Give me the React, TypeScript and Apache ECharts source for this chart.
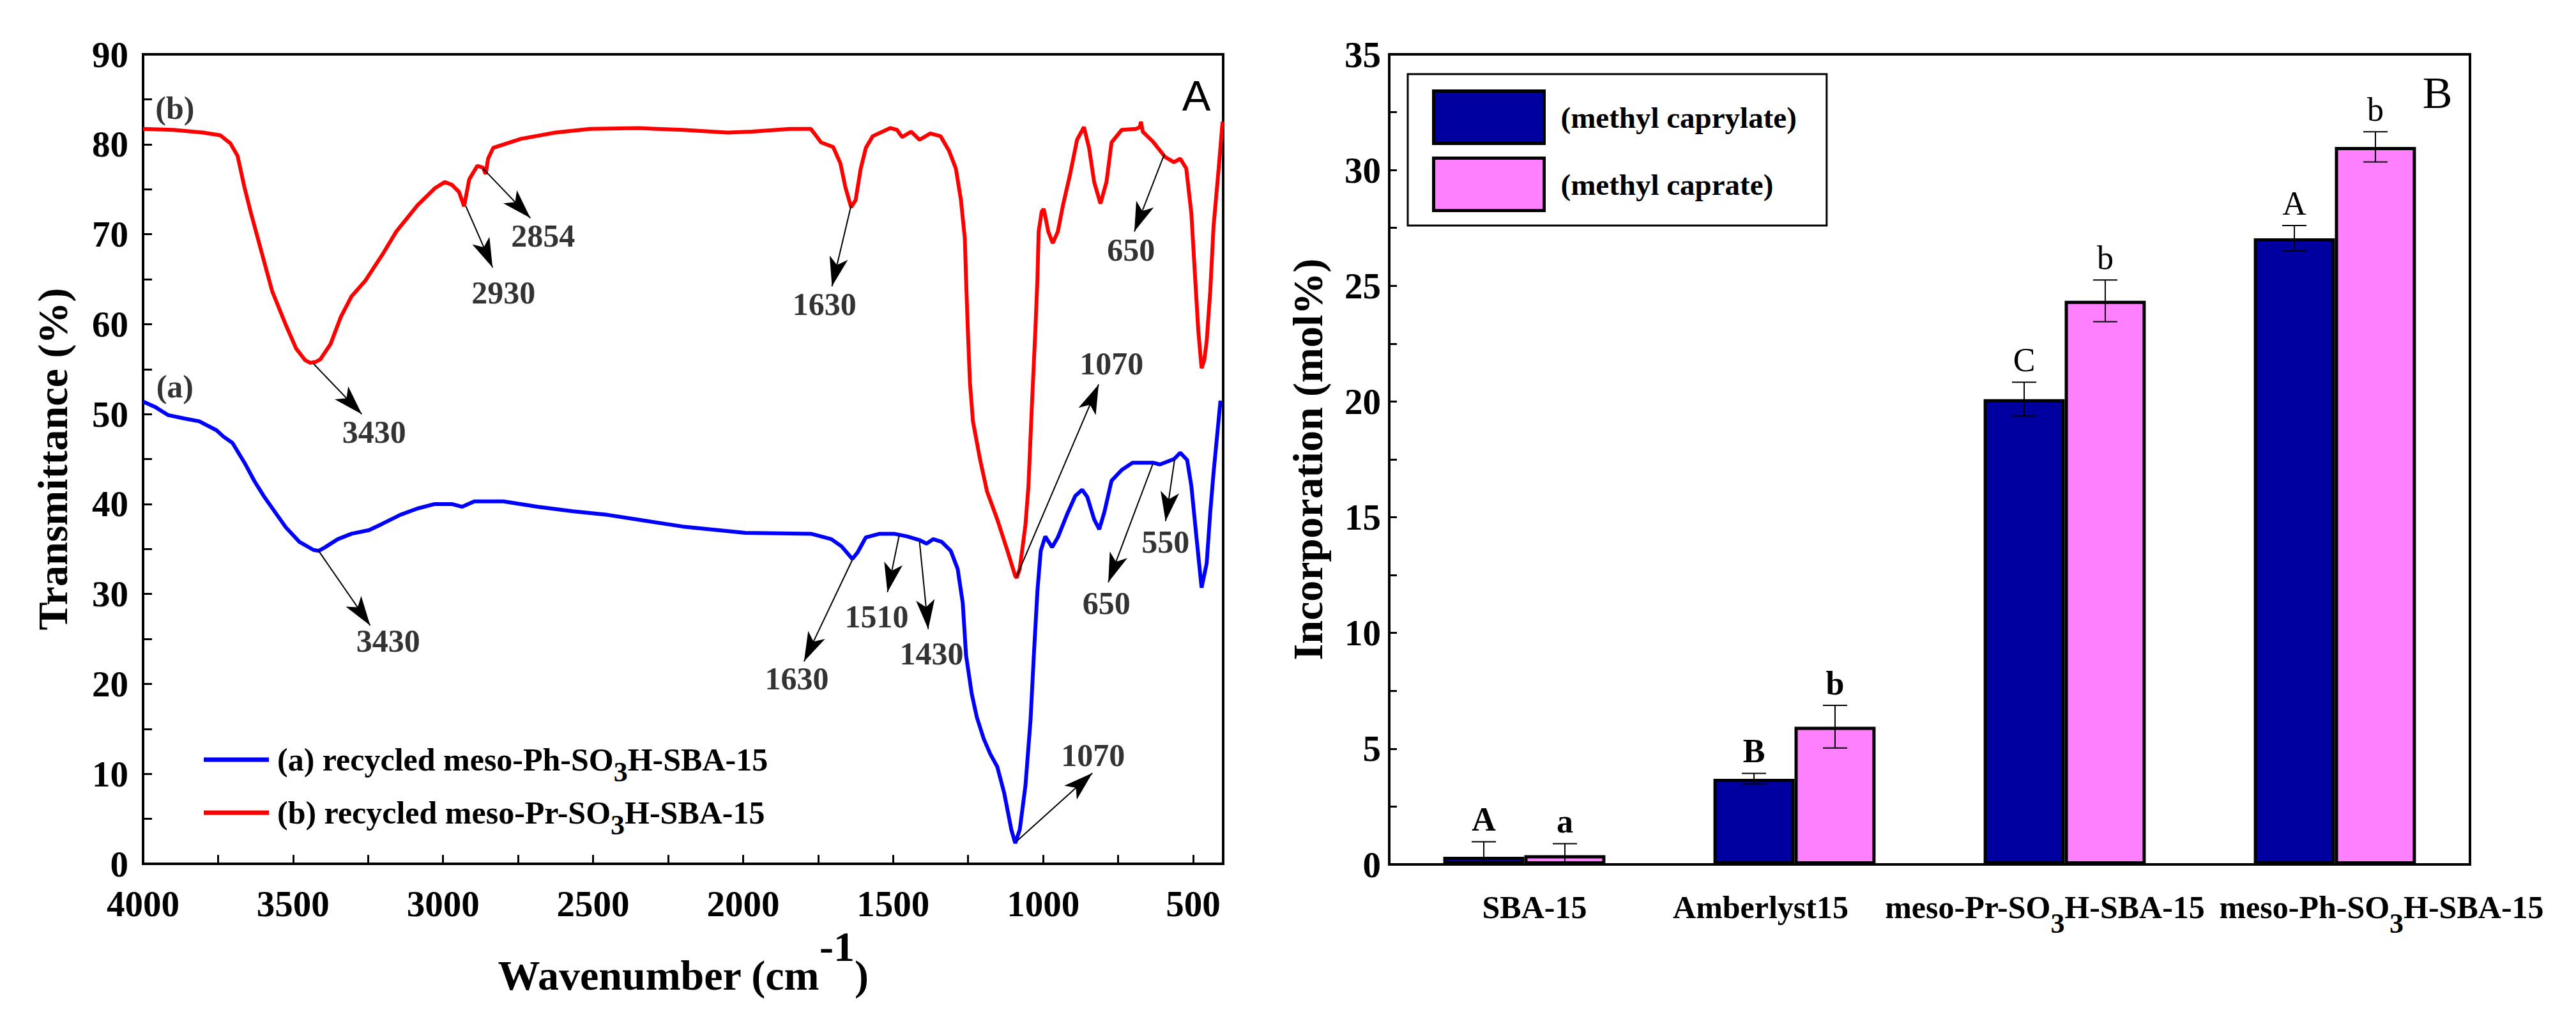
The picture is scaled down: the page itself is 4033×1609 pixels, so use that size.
import React, { useEffect, useRef } from 'react';
import * as echarts from 'echarts';

// ---------- FTIR data (left panel) ----------
const wavenumberA = [4000,3960,3917,3860,3813,3755,3732,3702,3662,3628,3594,3560,3524,3479,3432,3415,3398,3351,3305,3247,3203,3143,3086,3028,2971,2937,2896,2799,2684,2567,2452,2337,2201,1993,1774,1706,1672,1636,1619,1591,1545,1497,1453,1412,1389,1366,1338,1308,1285,1268,1257,1238,1221,1198,1176,1153,1130,1106,1093,1078,1059,1042,1031,1019,1008,993,970,951,921,893,870,853,830,813,796,772,738,702,634,611,564,543,520,506,489,472,455,443,432,409];
const transmittanceA = [51.4,50.8,49.9,49.5,49.2,48.2,47.5,46.8,44.6,42.5,40.7,39.1,37.4,35.8,34.9,34.8,35.1,36.1,36.7,37.1,37.8,38.8,39.5,40.0,40.0,39.7,40.3,40.3,39.7,39.2,38.8,38.2,37.5,36.8,36.7,36.1,35.3,33.9,34.6,36.3,36.7,36.7,36.4,36.0,35.6,36.1,35.8,34.8,32.8,29.0,23.2,18.9,16.3,13.9,12.2,10.8,7.9,3.8,2.3,3.8,8.7,16.0,23.2,30.4,34.8,36.4,35.2,36.3,38.8,40.9,41.6,40.8,38.3,37.2,39.1,42.6,43.8,44.6,44.6,44.4,45.0,45.7,44.9,42.0,36.3,30.7,33.4,39.1,43.5,51.5];

const wavenumberB = [4000,3900,3800,3743,3709,3685,3662,3640,3605,3570,3524,3490,3460,3443,3425,3409,3375,3341,3305,3260,3203,3156,3086,3028,2994,2971,2947,2930,2913,2886,2867,2858,2850,2833,2741,2626,2510,2350,2201,2052,1971,1844,1774,1740,1700,1676,1659,1640,1625,1608,1591,1568,1510,1487,1470,1440,1412,1376,1342,1314,1291,1274,1261,1257,1251,1244,1234,1210,1187,1153,1119,1093,1088,1078,1059,1049,1038,1026,1019,1015,1005,998,990,983,968,951,934,910,887,864,847,830,809,789,772,738,691,678,674,668,634,594,564,543,523,506,496,483,472,463,455,443,432,415,402];
const transmittanceB = [81.7,81.6,81.3,81.0,80.1,78.7,75.2,72.3,68.0,63.7,59.9,57.3,56.0,55.7,55.8,56.1,57.8,60.8,63.1,64.8,67.7,70.3,73.2,75.1,75.8,75.5,74.7,73.1,76.1,77.6,77.4,76.7,78.4,79.6,80.6,81.3,81.7,81.8,81.6,81.3,81.4,81.7,81.7,80.2,79.7,77.9,75.2,73.0,73.8,77.3,79.6,80.9,81.8,81.6,80.8,81.4,80.5,81.2,80.9,79.3,77.3,73.8,69.5,65.1,59.3,53.5,49.2,44.9,41.4,38.3,34.8,32.0,31.8,32.8,37.7,42.0,50.6,59.3,65.1,70.3,72.5,72.8,71.5,70.3,69.0,70.3,73.2,76.7,80.5,81.9,79.6,75.8,73.4,75.8,80.2,81.6,81.7,81.9,82.5,81.4,80.3,78.6,78.0,78.4,77.3,72.3,66.6,59.3,55.1,56.0,58.1,63.7,70.9,77.3,82.5];

const seriesNameA = '(a) recycled meso-Ph-SO3H-SBA-15';
const seriesNameB = '(b) recycled meso-Pr-SO3H-SBA-15';

// peak annotations (data coordinates: wavenumber, transmittance)
const peakTexts = ['3430','2930','2854','1630','650','1070','3430','1630','1510','1430','1070','650','550','(b)','(a)'];
const peakTextX = [3230,2799,2667,1729,707,772,3183,1821,1555,1372,834,789,592,3894,3894];
const peakTextY = [48.0,63.5,69.8,62.2,68.3,55.6,24.8,20.6,27.5,23.4,12.1,29.0,35.8,84.0,53.1];
const arrowFrom = [[3432,55.6],[2924,73.1],[2867,77.3],[1640,73.2],[596,78.9],[1089,31.9],[3415,34.8],[1636,33.8],[1480,36.5],[1412,35.8],[1089,2.5],[634,44.5],[562,44.9]];
const arrowTo = [[3271,50.0],[2835,66.3],[2709,71.8],[1704,64.2],[696,70.3],[815,53.3],[3243,26.5],[1797,22.5],[1519,30.2],[1383,26.1],[836,10.1],[783,31.3],[592,38.1]];

const xLabelValues = [500,1000,1500,2000,2500,3000,3500,4000];
const xTickValues = [500,750,1000,1250,1500,1750,2000,2250,2500,2750,3000,3250,3500,3750,4000];

// ---------- Bar data (right panel) ----------
const categories = ['SBA-15','Amberlyst15','meso-Pr-SO3H-SBA-15','meso-Ph-SO3H-SBA-15'];
const caprylate = [0.33, 3.7, 20.1, 27.05];
const caprylateErr = [0.65, 0.23, 0.73, 0.55];
const caprate = [0.4, 5.95, 24.35, 31.0];
const caprateErr = [0.5, 0.92, 0.9, 0.65];
const caprylateLetters = ['A','B','C','A'];
const caprateLetters = ['a','b','b','b'];

// ---------- styling constants ----------
const SERIF = '"Liberation Serif", "Times New Roman", serif';
const SANS = '"Liberation Sans", Arial, sans-serif';
const labelShift = [16, -53, -31, 73];

function zip(xs: number[], ys: number[]) {
  const n = Math.min(xs.length, ys.length);
  const out: number[][] = [];
  for (let i = 0; i < n; i++) out.push([xs[i], ys[i]]);
  return out;
}

function subRich(name: string, token: string) {
  const p = name.split('SO3H');
  if (p.length < 2) return `{${token}|${name}}`;
  return `{${token}|${p[0]}SO}{s|3}{${token}|H${p[1]}}`;
}

export default function App() {
  const ref = useRef<HTMLDivElement>(null);
  useEffect(() => {
    if (!ref.current) return;
    const chart = echarts.init(ref.current, undefined, { renderer: 'svg' });

    const catRich: any = {
      m: { fontSize: 50, fontWeight: 'bold', fontFamily: SERIF, color: '#000', lineHeight: 94 },
      s: { fontSize: 44, fontWeight: 'bold', fontFamily: SERIF, color: '#000', lineHeight: 44, padding: [50, 0, 0, 0] },
    };
    labelShift.forEach((d, i) => {
      catRich['g' + i] = { width: Math.abs(d) * 2, lineHeight: 94, fontSize: 50 };
    });

    const errData: any[] = [];
    caprylate.forEach((v, i) => errData.push([i, v, caprylateErr[i], 0]));
    caprate.forEach((v, i) => errData.push([i, v, caprateErr[i], 1]));

    const option: any = {
      animation: false,
      backgroundColor: '#ffffff',
      grid: [
        { left: 224, top: 85, width: 1691, height: 1268, show: true, borderColor: '#000', borderWidth: 4, backgroundColor: 'transparent' },
        { left: 2175, top: 85, width: 1692, height: 1268, show: true, borderColor: '#000', borderWidth: 4, backgroundColor: 'transparent' },
      ],
      xAxis: [
        {
          type: 'value', gridIndex: 0, min: 400, max: 4000, inverse: true,
          axisLine: { show: true, onZero: false, lineStyle: { color: '#000', width: 4 } },
          axisTick: { show: true, inside: true, length: 14, lineStyle: { color: '#000', width: 3 }, customValues: xTickValues },
          axisLabel: {
            show: true, margin: 34, fontSize: 57, fontWeight: 'bold', fontFamily: SERIF, color: '#000',
            customValues: xLabelValues, formatter: (v: number) => String(v),
          },
          splitLine: { show: false },
          name: '{m|Wavenumber (cm}{p|-1}{m|)}',
          nameLocation: 'middle', nameGap: 89,
          nameTextStyle: {
            rich: {
              m: { fontSize: 66, fontWeight: 'bold', fontFamily: SERIF, color: '#000', lineHeight: 66 },
              p: { fontSize: 66, fontWeight: 'bold', fontFamily: SERIF, color: '#000', lineHeight: 66, padding: [0, 0, 90, 0] },
            },
          },
        },
        {
          type: 'category', gridIndex: 1, data: categories,
          axisLine: { show: true, lineStyle: { color: '#000', width: 4 } },
          axisTick: { show: false },
          splitLine: { show: false },
          axisLabel: {
            interval: 0, margin: 20,
            formatter: (val: string, idx: number) => {
              const body = subRich(val, 'm');
              const d = labelShift[idx] || 0;
              return d > 0 ? `{g${idx}| }` + body : body + `{g${idx}| }`;
            },
            rich: catRich,
          },
        },
      ],
      yAxis: [
        {
          type: 'value', gridIndex: 0, min: 0, max: 90, interval: 10,
          axisLine: { show: true, lineStyle: { color: '#000', width: 4 } },
          axisTick: { show: true, inside: true, length: 14, lineStyle: { color: '#000', width: 3 } },
          minorTick: { show: true, splitNumber: 2, length: 14, lineStyle: { color: '#000', width: 3 } },
          splitLine: { show: false },
          axisLabel: { margin: 23, fontSize: 57, fontWeight: 'bold', fontFamily: SERIF, color: '#000' },
          name: 'Transmittance (%)', nameLocation: 'middle', nameGap: 109,
          nameTextStyle: { fontSize: 66, fontWeight: 'bold', fontFamily: SERIF, color: '#000' },
        },
        {
          type: 'value', gridIndex: 1, min: 0, max: 35, interval: 5,
          axisLine: { show: true, lineStyle: { color: '#000', width: 4 } },
          axisTick: { show: true, inside: true, length: 12, lineStyle: { color: '#000', width: 3 } },
          minorTick: { show: true, splitNumber: 2, length: 12, lineStyle: { color: '#000', width: 3 } },
          splitLine: { show: false },
          axisLabel: { margin: 13, fontSize: 57, fontWeight: 'bold', fontFamily: SERIF, color: '#000' },
          name: 'Incorporation (mol%)', nameLocation: 'middle', nameGap: 95,
          nameTextStyle: { fontSize: 66, fontWeight: 'bold', fontFamily: SERIF, color: '#000' },
        },
      ],
      legend: [
        {
          data: [seriesNameA, seriesNameB],
          left: 319, top: 1148, orient: 'vertical', icon: 'rect',
          itemWidth: 102, itemHeight: 7, itemGap: 1, padding: 0, selectedMode: false,
          formatter: (name: string) => subRich(name, 'm'),
          textStyle: {
            padding: [0, 0, 0, 8],
            rich: {
              m: { fontSize: 50, fontWeight: 'bold', fontFamily: SERIF, color: '#000', lineHeight: 60 },
              s: { fontSize: 44, fontWeight: 'bold', fontFamily: SERIF, color: '#000', lineHeight: 44, padding: [38, 0, 0, 0] },
            },
          },
        },
        {
          data: ['(methyl caprylate)', '(methyl caprate)'],
          left: 2204, top: 116, orient: 'vertical', icon: 'rect',
          itemWidth: 173, itemHeight: 82, itemGap: 18, padding: [24, 47, 21, 38],
          borderColor: '#000', borderWidth: 3, selectedMode: false,
          itemStyle: { borderColor: '#000', borderWidth: 5 },
          textStyle: { fontSize: 47, fontWeight: 'bold', fontFamily: SERIF, color: '#000', padding: [30, 0, 0, 21] },
        },
      ],
      graphic: [
        { type: 'text', x: 1873, y: 149, style: { text: 'A', fontSize: 67, fontFamily: SANS, fill: '#000', align: 'center', verticalAlign: 'middle' } },
        { type: 'text', x: 3816, y: 145, style: { text: 'B', fontSize: 70, fontFamily: SERIF, fill: '#000', align: 'center', verticalAlign: 'middle' } },
      ],
      series: [
        {
          name: seriesNameA, type: 'line', xAxisIndex: 0, yAxisIndex: 0,
          data: zip(wavenumberA, transmittanceA), showSymbol: false, symbol: 'none',
          color: '#0000FF', lineStyle: { color: '#0000FF', width: 6 }, z: 3,
        },
        {
          name: seriesNameB, type: 'line', xAxisIndex: 0, yAxisIndex: 0,
          data: zip(wavenumberB, transmittanceB), showSymbol: false, symbol: 'none',
          color: '#FF0000', lineStyle: { color: '#FF0000', width: 6 }, z: 3,
        },
        {
          name: 'peaks', type: 'scatter', xAxisIndex: 0, yAxisIndex: 0,
          symbolSize: 1, itemStyle: { color: 'rgba(0,0,0,0)' }, silent: true, z: 5,
          data: peakTexts.map((t, i) => ({ name: t, value: [peakTextX[i], peakTextY[i]] })),
          label: { show: true, position: 'inside', formatter: '{b}', fontSize: 50, fontWeight: 'bold', fontFamily: SERIF, color: '#000' },
          markLine: {
            silent: true, symbol: ['none', 'arrow'], symbolSize: [22, 46],
            lineStyle: { color: '#000', width: 2, type: 'solid' },
            itemStyle: { color: '#000' },
            label: { show: false },
            data: arrowFrom.map((f, i) => [{ coord: f }, { coord: arrowTo[i] }]),
          },
        },
        {
          name: '(methyl caprylate)', type: 'bar', xAxisIndex: 1, yAxisIndex: 1,
          data: caprylate, barWidth: '30%', barGap: '0%',
          itemStyle: { color: '#0000A0', borderColor: '#000', borderWidth: 5 },
        },
        {
          name: '(methyl caprate)', type: 'bar', xAxisIndex: 1, yAxisIndex: 1,
          data: caprate, barWidth: '30%', barGap: '0%',
          itemStyle: { color: '#FF80FF', borderColor: '#000', borderWidth: 5 },
        },
        {
          name: 'errors', type: 'custom', xAxisIndex: 1, yAxisIndex: 1, clip: true, z: 4,
          data: errData,
          renderItem: (params: any, api: any) => {
            const ci = api.value(0);
            const v = api.value(1);
            const e = api.value(2);
            const si = api.value(3);
            const band = api.size([1, 0])[0];
            const bw = band * 0.3;
            const off = (si === 0 ? -0.5 : 0.5) * bw;
            const top = api.coord([ci, v + e]);
            const bot = api.coord([ci, v - e]);
            const x = top[0] + off;
            const cap = 19;
            const letter = si === 0 ? caprylateLetters[ci] : caprateLetters[ci];
            const ls = { stroke: '#000', lineWidth: 2 };
            return {
              type: 'group',
              children: [
                { type: 'line', shape: { x1: x, y1: top[1], x2: x, y2: bot[1] }, style: ls },
                { type: 'line', shape: { x1: x - cap, y1: top[1], x2: x + cap, y2: top[1] }, style: ls },
                { type: 'line', shape: { x1: x - cap, y1: bot[1], x2: x + cap, y2: bot[1] }, style: ls },
                {
                  type: 'text', x, y: top[1] - 9,
                  style: { text: letter, fontSize: 52, fontFamily: SERIF, fontWeight: ci < 2 ? 'bold' : 'normal', fill: '#000', align: 'center', verticalAlign: 'bottom' },
                },
              ],
            };
          },
        },
      ],
    };

    chart.setOption(option);
    return () => chart.dispose();
  }, []);

  return (
    <div
      ref={ref}
      style={{ position: 'absolute', left: 0, top: 0, width: 4033, height: 1609, background: '#fff' }}
    />
  );
}
